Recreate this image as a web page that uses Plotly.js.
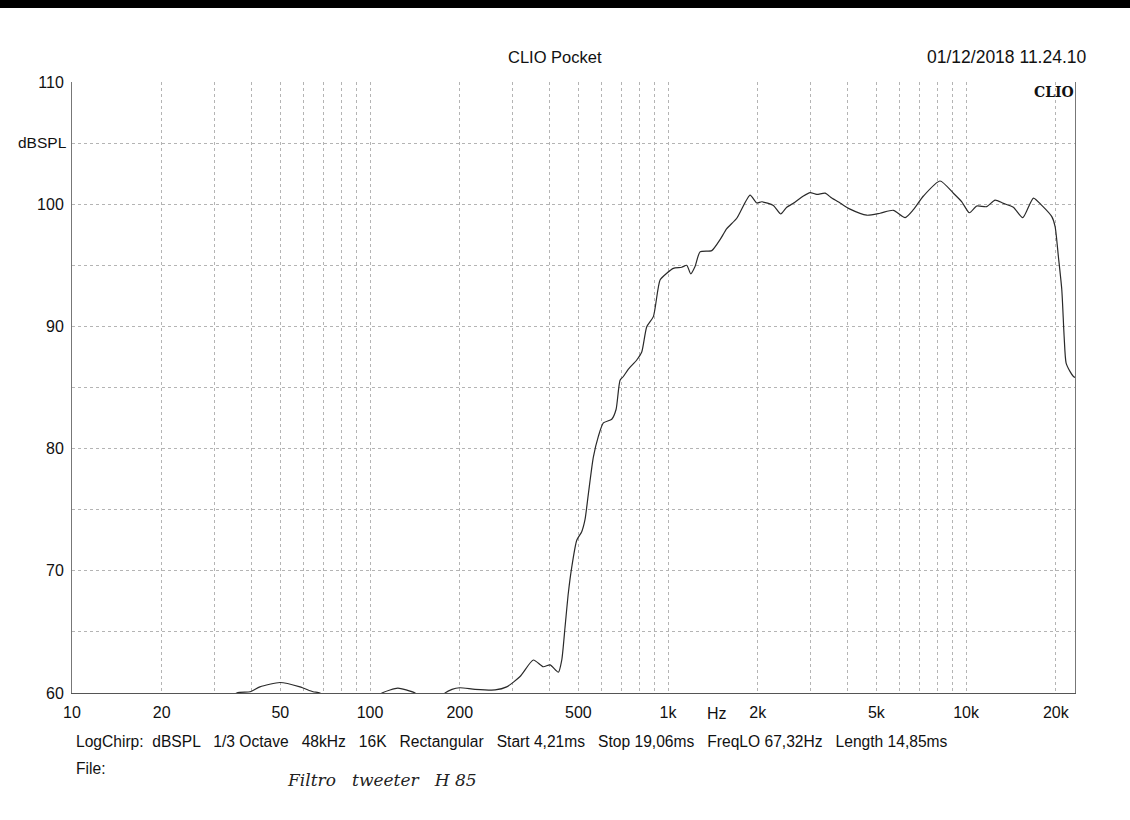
<!DOCTYPE html>
<html>
<head>
<meta charset="utf-8">
<script src="https://cdn.plot.ly/plotly-3.0.1.min.js"></script>
<style>
  html, body { margin: 0; padding: 0; background: #ffffff; }
  #chart { width: 1130px; height: 820px; }
</style>
</head>
<body>
<div id="chart"></div>
<script>
// Frequency (Hz) and level (dBSPL)
const freqHz = [
  10, 30, 35.7, 39.6, 42.7, 49.9, 58.2, 64.4, 67.9, 75, 100, 109.7, 116.7, 124, 132.1, 141.6, 155, 170,
  178.6, 188.4, 200, 225.1, 262.8, 287.5, 318.7, 353.2, 381.4, 401.8, 428.5, 439.9, 451.2, 462.9,
  475.2, 493.9, 513.3, 526.6, 540.3, 561.5, 583.6, 606.7, 647.3, 669.2, 690.2, 707.9, 736, 785.2,
  816.1, 848.3, 892.7, 940.1, 990, 1041.8, 1111.8, 1155.6, 1191.8, 1231.9, 1280.6, 1401.8, 1494.7,
  1574, 1700.5, 1884.6, 1985, 2063, 2256.4, 2388.9, 2502, 2633.2, 2845, 2996, 3155, 3364, 3543,
  3778, 4081, 4644, 5145, 5703, 6244, 6656, 7193, 8180, 9066, 9674, 10259, 10863, 11736, 12514,
  13342, 14410, 15500, 16823, 17950, 19393, 19895, 20408, 20950, 21330, 21660, 22340, 22920, 23300
];
const levelDb = [
  55, 58.5, 60.0, 60.1, 60.5, 60.86, 60.5, 60.1, 60.0, 59.2, 59.2, 60.0, 60.25, 60.4, 60.25, 60.0, 59.2, 59.4,
  60.0, 60.3, 60.43, 60.3, 60.25, 60.5, 61.35, 62.7, 62.15, 62.3, 61.7, 62.7, 65.4, 68.2,
  70.3, 72.5, 73.2, 74.2, 76.3, 79.3, 81.0, 82.1, 82.4, 83.2, 85.6, 85.9, 86.5, 87.25,
  87.9, 89.97, 90.8, 93.8, 94.35, 94.75, 94.84, 95.0, 94.3, 94.9, 96.1, 96.2, 97.1,
  98.0, 98.85, 100.75, 100.1, 100.2, 99.9, 99.2, 99.75, 100.07, 100.67, 100.95, 100.8, 100.9, 100.5,
  100.1, 99.6, 99.1, 99.26, 99.5, 98.9, 99.55, 100.67, 101.9, 100.9, 100.2, 99.3, 99.85, 99.8, 100.34,
  100.07, 99.75, 98.9, 100.5, 99.9, 98.98, 98.17, 95.7, 93.0, 89.2, 87.0, 86.3, 85.9, 85.8
];

// Axis ticks
const xGridVals = [10,20,30,40,50,60,70,80,90,100,200,300,400,500,600,700,800,900,
                   1000,2000,3000,4000,5000,6000,7000,8000,9000,10000,20000];
const xGridText = ['10','20','','','50','','','','','100','200','','','500','','','','',
                   '1k','2k','','','5k','','','','','10k','20k'];
const yGridVals = [60,65,70,75,80,85,90,95,100,105,110];
const yGridText = ['60','','70','','80','','90','','100','','110'];

const titleText = 'CLIO Pocket';
const dateText = '01/12/2018 11.24.10';
const yUnit = 'dBSPL';
const xUnit = 'Hz';
const infoLine = 'LogChirp:  dBSPL   1/3 Octave   48kHz   16K   Rectangular   Start 4,21ms   Stop 19,06ms   FreqLO 67,32Hz   Length 14,85ms';
const fileLabel = 'File:';
const handNote = 'Filtro   tweeter   H 85';

// plot area in pixels: left 72, right 1075, top 82, bottom 693
const L = 72, R = 1075, T = 82, B = 693;
const px = X => (X - L) / (R - L);
const py = Y => (B - Y) / (B - T);

const font = 'Liberation Sans, Arial, sans-serif';

const trace = {
  x: freqHz, y: levelDb, type: 'scatter', mode: 'lines',
  line: { color: '#2a2a2a', width: 1.2, shape: 'spline', smoothing: 0.6 },
  hoverinfo: 'x+y'
};

const layout = {
  width: 1130, height: 820,
  margin: { l: L, r: 1130 - R, t: T, b: 820 - B },
  paper_bgcolor: '#ffffff', plot_bgcolor: '#ffffff',
  showlegend: false,
  font: { family: font, size: 16, color: '#111' },
  xaxis: {
    type: 'log', range: [1, Math.log10(23200)],
    tickvals: xGridVals, ticktext: xGridText,
    showgrid: true, gridcolor: '#b4b4b4', griddash: 'dot', gridwidth: 1,
    showline: true, linecolor: '#555', linewidth: 1.2, mirror: false,
    ticks: '', zeroline: false,
    tickfont: { family: font, size: 16, color: '#111' },
    ticklabelstandoff: 5
  },
  yaxis: {
    range: [60, 110],
    tickvals: yGridVals, ticktext: yGridText,
    showgrid: true, gridcolor: '#b4b4b4', griddash: 'dot', gridwidth: 1,
    showline: true, linecolor: '#777', linewidth: 1, mirror: true,
    ticks: '', zeroline: false,
    tickfont: { family: font, size: 16, color: '#111' },
    ticklabelstandoff: 4
  },
  shapes: [
    { type: 'rect', xref: 'paper', yref: 'paper',
      x0: px(-5), x1: px(1135), y0: py(8), y1: py(-5),
      fillcolor: '#000', line: { width: 0 }, layer: 'above' }
  ],
  annotations: [
    { text: titleText, xref: 'paper', yref: 'paper', x: px(555), y: py(57),
      showarrow: false, xanchor: 'center', yanchor: 'middle', font: { size: 16.5 } },
    { text: dateText, xref: 'paper', yref: 'paper', x: px(1089), y: py(57),
      showarrow: false, xanchor: 'right', yanchor: 'middle', font: { size: 17.5 } },
    { text: '<b>CLIO</b>', xref: 'paper', yref: 'paper', x: px(1076), y: py(92),
      showarrow: false, xanchor: 'right', yanchor: 'middle',
      font: { family: 'DejaVu Serif, Liberation Serif, serif', size: 14, color: '#111' } },
    { text: yUnit, xref: 'paper', yref: 'paper', x: px(16), y: py(142),
      showarrow: false, xanchor: 'left', yanchor: 'middle', font: { size: 15.5 } },
    { text: xUnit, xref: 'paper', yref: 'paper', x: px(717), y: py(714),
      showarrow: false, xanchor: 'center', yanchor: 'middle', font: { size: 16 } },
    { text: infoLine, xref: 'paper', yref: 'paper', x: px(74), y: py(742),
      showarrow: false, xanchor: 'left', yanchor: 'middle', font: { size: 15.6 } },
    { text: fileLabel, xref: 'paper', yref: 'paper', x: px(74), y: py(768),
      showarrow: false, xanchor: 'left', yanchor: 'middle', font: { size: 15.6 } },
    { text: handNote, xref: 'paper', yref: 'paper', x: px(285), y: py(780),
      showarrow: false, xanchor: 'left', yanchor: 'middle',
      font: { family: 'DejaVu Serif, serif', size: 17, color: '#222', style: 'italic' } }
  ]
};

Plotly.newPlot('chart', [trace], layout, { displayModeBar: false, staticPlot: true });
</script>
</body>
</html>
